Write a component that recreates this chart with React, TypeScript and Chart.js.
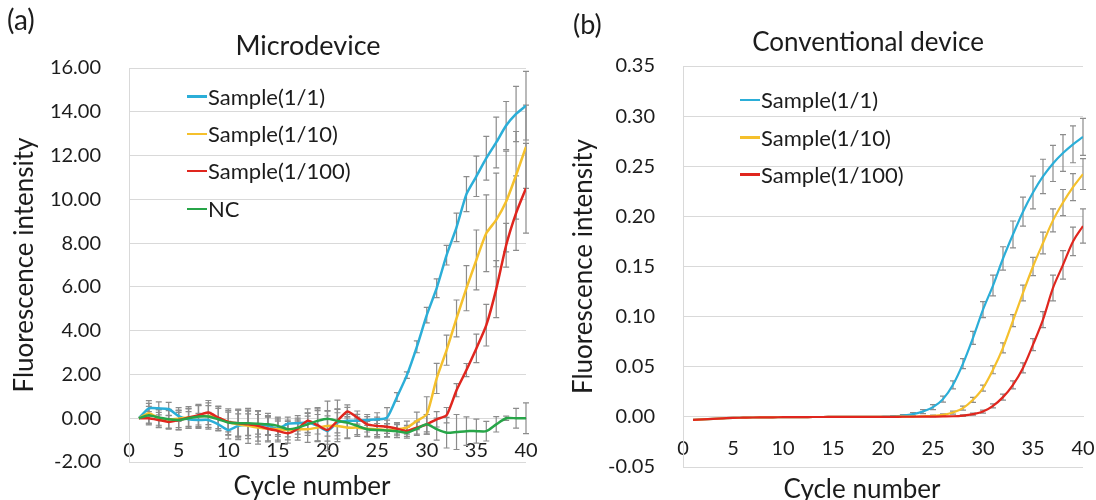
import React, { useEffect, useRef } from "react";
import { Chart, registerables } from "chart.js";

Chart.register(...registerables);

// ---------- data ----------
const cycles = [1, 2, 3, 4, 5, 6, 7, 8, 9, 10, 11, 12, 13, 14, 15, 16, 17, 18, 19, 20,
  21, 22, 23, 24, 25, 26, 27, 28, 29, 30, 31, 32, 33, 34, 35, 36, 37, 38, 39, 40];

const seriesLabelsA = ["Sample(1/1)", "Sample(1/10)", "Sample(1/100)", "NC"];
const seriesLabelsB = ["Sample(1/1)", "Sample(1/10)", "Sample(1/100)"];
const seriesColors = ["#2BAED8", "#F5C02C", "#E0261E", "#27A548"];

// (a) Microdevice
const microS1 = [0, 0.45, 0.45, 0.42, 0.1, -0.05, -0.08, -0.08, -0.28, -0.54,
  -0.35, -0.3, -0.28, -0.35, -0.48, -0.25, -0.23, -0.2, -0.35, -0.58,
  -0.2, -0.12, -0.12, -0.08, -0.05, 0.03, 0.97, 1.97, 3.26, 4.71,
  5.94, 7.45, 8.72, 10.24, 11.05, 11.88, 12.6, 13.37, 13.9, 14.28];
const microS1Err = [0, 0.35, 0.3, 0.3, 0.25, 0.35, 0.3, 0.35, 0.3, 0.4,
  0.55, 0.5, 0.45, 0.4, 0.35, 0.3, 0.35, 0.45, 0.7, 0.9,
  0.6, 0.3, 0.3, 0.25, 0.3, 0.45, 0.2, 0.15, 0.27, 0.35,
  0.43, 0.45, 0.65, 0.8, 0.92, 1.0, 1.16, 1.1, 1.26, 1.57];
const microS10 = [0, 0.23, 0, -0.05, -0.02, 0.03, 0.08, 0.1, 0, -0.17,
  -0.28, -0.35, -0.43, -0.48, -0.5, -0.54, -0.5, -0.5, -0.43, -0.35,
  -0.35, -0.43, -0.43, -0.48, -0.5, -0.54, -0.5, -0.43, -0.12, 0.18,
  1.82, 3.11, 4.56, 5.94, 7.23, 8.45, 9.06, 9.9, 11.1, 12.4];
const microS10Err = [0, 0.45, 0.4, 0.45, 0.5, 0.5, 0.55, 0.6, 0.55, 0.6,
  0.7, 0.8, 0.75, 0.6, 0.5, 0.45, 0.5, 0.6, 0.6, 0.7,
  0.6, 0.5, 0.4, 0.35, 0.4, 0.3, 0.3, 0.3, 0.4, 0.8,
  0.69, 0.69, 0.84, 1.03, 1.37, 1.75, 2.14, 2.3, 2.0, 1.9];
const microS100 = [0, 0, -0.08, -0.17, -0.08, 0.03, 0.14, 0.26, 0.03, -0.17,
  -0.23, -0.28, -0.35, -0.48, -0.58, -0.69, -0.48, -0.12, -0.32, -0.54,
  -0.12, 0.31, 0.03, -0.28, -0.35, -0.39, -0.48, -0.58, -0.43, -0.28,
  -0.05, 0.14, 1.28, 2.2, 3.19, 4.25, 5.9, 7.9, 9.37, 10.51];
const microS100Err = [0, 0.3, 0.35, 0.3, 0.35, 0.4, 0.45, 0.55, 0.5, 0.45,
  0.6, 0.65, 0.7, 0.55, 0.5, 0.45, 0.4, 0.55, 0.75, 0.65,
  0.55, 0.3, 0.3, 0.35, 0.4, 0.3, 0.25, 0.25, 0.3, 0.45,
  0.35, 0.35, 0.3, 0.3, 0.65, 0.95, 1.3, 1.0, 1.7, 2.05];
const microNC = [0, 0.14, 0.03, -0.05, -0.08, 0, 0.08, 0.08, -0.05, -0.2,
  -0.23, -0.23, -0.25, -0.28, -0.35, -0.5, -0.43, -0.28, -0.12, -0.02,
  -0.12, -0.2, -0.35, -0.5, -0.54, -0.56, -0.59, -0.66, -0.48, -0.28,
  -0.5, -0.66, -0.63, -0.59, -0.59, -0.59, -0.28, 0, 0, 0];
const microNCErr = [0, 0.4, 0.35, 0.4, 0.45, 0.45, 0.5, 0.5, 0.5, 0.55,
  0.6, 0.55, 0.6, 0.5, 0.4, 0.35, 0.3, 0.5, 0.6, 0.8,
  0.95, 0.7, 0.4, 0.35, 0.3, 0.3, 0.3, 0.25, 0.3, 0.45,
  0.5, 0.7, 0.8, 0.65, 0.55, 0.45, 0.35, 0.1, 0.45, 0.7];

// (b) Conventional device
const convS1 = [-0.003, -0.0025, -0.002, -0.0015, -0.001, -0.0008, -0.0006, -0.0005, -0.0004, -0.0003,
  -0.0002, -0.0002, -0.0001, -0.0001, 0, 0, 0, 0, 0, 0.0002,
  0.0005, 0.0013, 0.0027, 0.0053, 0.0097, 0.0177, 0.032, 0.0531, 0.0788, 0.107,
  0.131, 0.158, 0.182, 0.2047, 0.2238, 0.2398, 0.2528, 0.2632, 0.2719, 0.2793];
const convS1Err = [0, 0, 0, 0, 0, 0, 0, 0, 0, 0,
  0, 0, 0, 0, 0, 0, 0, 0, 0, 0,
  0.0005, 0.001, 0.0015, 0.002, 0.0025, 0.003, 0.004, 0.005, 0.0065, 0.008,
  0.0103, 0.0117, 0.0134, 0.0145, 0.0164, 0.0172, 0.018, 0.0184, 0.0184, 0.0184];
const convS10 = [-0.003, -0.0025, -0.002, -0.0015, -0.001, -0.0008, -0.0006, -0.0005, -0.0004, -0.0003,
  -0.0002, -0.0002, -0.0001, -0.0001, 0, 0, 0, 0, 0, 0,
  0.0001, 0.0002, 0.0003, 0.0006, 0.001, 0.002, 0.0043, 0.0087, 0.017, 0.0287,
  0.047, 0.0688, 0.096, 0.1236, 0.15, 0.1734, 0.196, 0.2138, 0.2292, 0.2422];
const convS10Err = [0, 0, 0, 0, 0, 0, 0, 0, 0, 0,
  0, 0, 0, 0, 0, 0, 0, 0, 0, 0,
  0, 0, 0, 0, 0.0008, 0.001, 0.0015, 0.002, 0.0025, 0.003,
  0.004, 0.005, 0.006, 0.0078, 0.0092, 0.0109, 0.0114, 0.013, 0.0134, 0.0154];
const convS100 = [-0.003, -0.0025, -0.002, -0.0015, -0.001, -0.0008, -0.0006, -0.0005, -0.0004, -0.0003,
  -0.0002, -0.0002, -0.0001, -0.0001, 0, 0, 0, 0, 0, 0,
  0, 0.0001, 0.0001, 0.0002, 0.0003, 0.0004, 0.0006, 0.0013, 0.0027, 0.0053,
  0.011, 0.0197, 0.032, 0.0488, 0.072, 0.097, 0.1286, 0.1516, 0.175, 0.1904];
const convS100Err = [0, 0, 0, 0, 0, 0, 0, 0, 0, 0,
  0, 0, 0, 0, 0, 0, 0, 0, 0, 0,
  0, 0, 0, 0, 0, 0, 0, 0.0008, 0.001, 0.0015,
  0.002, 0.003, 0.004, 0.005, 0.006, 0.008, 0.0128, 0.0142, 0.0142, 0.017];

// axis ranges: [min, max, step]
const xRange = [0, 40, 5];
const yRangeA = [-2, 16, 2];
const yRangeB = [-0.05, 0.35, 0.05];

const FONT = "Lato, 'Open Sans', sans-serif";
const TEXT = "#1c1c1c";
const GRID = "#d9d9d9";

// ---------- error bar plugin ----------
const errorBarPlugin = {
  id: "errorBars",
  beforeDatasetsDraw(chart: any) {
    const { ctx, chartArea } = chart;
    const xs = chart.scales.x;
    const ys = chart.scales.y;
    const errsList = chart.options.plugins.errorBars.errors as number[][];
    ctx.save();
    ctx.beginPath();
    ctx.rect(chartArea.left - 5, chartArea.top - 2, chartArea.right - chartArea.left + 10, chartArea.bottom - chartArea.top + 4);
    ctx.clip();
    ctx.strokeStyle = "#8c8c8c";
    ctx.lineWidth = 1.2;
    chart.data.datasets.forEach((ds: any, di: number) => {
      const errs = errsList[di];
      if (!errs) return;
      ds.data.forEach((p: any, i: number) => {
        const e = errs[i];
        if (!e) return;
        const x = xs.getPixelForValue(p.x);
        const y1 = ys.getPixelForValue(p.y - e);
        const y2 = ys.getPixelForValue(p.y + e);
        ctx.beginPath();
        ctx.moveTo(x, y1);
        ctx.lineTo(x, y2);
        ctx.moveTo(x - 3, y1);
        ctx.lineTo(x + 3, y1);
        ctx.moveTo(x - 3, y2);
        ctx.lineTo(x + 3, y2);
        ctx.stroke();
      });
    });
    ctx.restore();
  },
};

function buildConfig(
  labels: string[],
  values: number[][],
  errs: number[][],
  yRange: number[],
  opts: { yWidth: number; pad: any; titlePad: number; lineWidth: number; smooth: boolean }
): any {
  const n = values.length;
  const datasets = values.map((vals, i) => ({
    label: labels[i],
    data: cycles.map((c, j) => ({ x: c, y: vals[j] })),
    borderColor: seriesColors[i],
    backgroundColor: seriesColors[i],
    borderWidth: opts.lineWidth,
    pointRadius: 0,
    fill: false,
    order: n - i,
    tension: opts.smooth ? 0 : 0.2,
    cubicInterpolationMode: opts.smooth ? "monotone" : "default",
  }));
  return {
    type: "line",
    data: { datasets },
    plugins: [errorBarPlugin],
    options: {
      animation: false,
      responsive: false,
      events: [],
      layout: { padding: opts.pad },
      plugins: {
        legend: { display: false },
        tooltip: { enabled: false },
        title: { display: false },
        errorBars: { errors: errs },
      },
      scales: {
        x: {
          type: "linear",
          min: xRange[0],
          max: xRange[1],
          position: { y: 0 },
          ticks: {
            stepSize: xRange[2],
            padding: 0,
            maxRotation: 0,
            autoSkip: false,
            color: TEXT,
            font: { family: FONT, size: 20 },
          },
          grid: {
            display: true,
            drawOnChartArea: false,
            drawTicks: true,
            tickLength: 20,
            tickColor: "rgba(0,0,0,0)",
            color: "rgba(0,0,0,0)",
          },
          border: { display: true, color: GRID, width: 1 },
        },
        y: {
          type: "linear",
          min: yRange[0],
          max: yRange[1],
          ticks: {
            stepSize: yRange[2],
            padding: 0,
            color: TEXT,
            font: { family: FONT, size: 20 },
            callback: (v: any) => (Math.abs(Number(v)) < 1e-9 ? 0 : Number(v)).toFixed(2),
          },
          grid: {
            color: GRID,
            lineWidth: 1,
            drawTicks: true,
            tickLength: 28,
            tickColor: "rgba(0,0,0,0)",
          },
          border: { display: true, color: GRID, width: 1 },
          title: {
            display: true,
            text: "Fluorescence intensity",
            color: TEXT,
            font: { family: FONT, size: 26, lineHeight: 1.2 },
            padding: { top: opts.titlePad, bottom: 0 },
          },
          afterFit: (s: any) => {
            s.width = opts.yWidth;
          },
        },
      },
    },
  };
}

function Txt(props: { x: number; top: number; size: number; center?: boolean; children: any }) {
  return (
    <div
      style={{
        position: "absolute",
        left: props.x,
        top: props.top,
        fontSize: props.size,
        lineHeight: 1,
        whiteSpace: "nowrap",
        transform: props.center ? "translateX(-50%)" : undefined,
      }}
    >
      {props.children}
    </div>
  );
}

function Legend(props: { labels: string[]; x: number; rows: number[] }) {
  return (
    <>
      {props.labels.map((l, i) => (
        <div
          key={l}
          style={{
            position: "absolute",
            left: props.x,
            top: props.rows[i] - 15,
            height: 30,
            display: "flex",
            alignItems: "center",
            whiteSpace: "nowrap",
          }}
        >
          <span style={{ display: "inline-block", width: 20, height: 2.5, background: seriesColors[i] }} />
          <span style={{ fontSize: 22, lineHeight: "30px", marginLeft: 1 }}>{l}</span>
        </div>
      ))}
    </>
  );
}

export default function App() {
  const refA = useRef<HTMLCanvasElement>(null);
  const refB = useRef<HTMLCanvasElement>(null);

  useEffect(() => {
    const a = new Chart(
      refA.current as HTMLCanvasElement,
      buildConfig(
        seriesLabelsA,
        [microS1, microS10, microS100, microNC],
        [microS1Err, microS10Err, microS100Err, microNCErr],
        yRangeA,
        { yWidth: 129, pad: { top: 68, right: 22, bottom: 38, left: 0 }, titlePad: 9, lineWidth: 2.5, smooth: false }
      )
    );
    const b = new Chart(
      refB.current as HTMLCanvasElement,
      buildConfig(
        seriesLabelsB,
        [convS1, convS10, convS100],
        [convS1Err, convS10Err, convS100Err],
        yRangeB,
        { yWidth: 135, pad: { top: 66, right: 13, bottom: 33, left: 0 }, titlePad: 20, lineWidth: 2.2, smooth: true }
      )
    );
    return () => {
      a.destroy();
      b.destroy();
    };
  }, []);

  return (
    <div
      style={{
        position: "absolute",
        left: 0,
        top: 0,
        width: 1096,
        height: 500,
        background: "#ffffff",
        fontFamily: FONT,
        color: TEXT,
        overflow: "hidden",
      }}
    >
      <canvas ref={refA} width={548} height={500} style={{ position: "absolute", left: 0, top: 0 }} />
      <canvas ref={refB} width={548} height={500} style={{ position: "absolute", left: 548, top: 0 }} />
      <Txt x={7} top={5} size={28}>(a)</Txt>
      <Txt x={573} top={10} size={27}>(b)</Txt>
      <Txt x={308} top={31} size={27} center>Microdevice</Txt>
      <Txt x={868} top={28} size={26} center>Conventional device</Txt>
      <Txt x={312} top={472} size={26} center>Cycle number</Txt>
      <Txt x={862} top={475} size={26} center>Cycle number</Txt>
      <Legend labels={seriesLabelsA} x={187} rows={[96.7, 134, 171, 209]} />
      <Legend labels={seriesLabelsB} x={740} rows={[100, 137.5, 174.5]} />
    </div>
  );
}
